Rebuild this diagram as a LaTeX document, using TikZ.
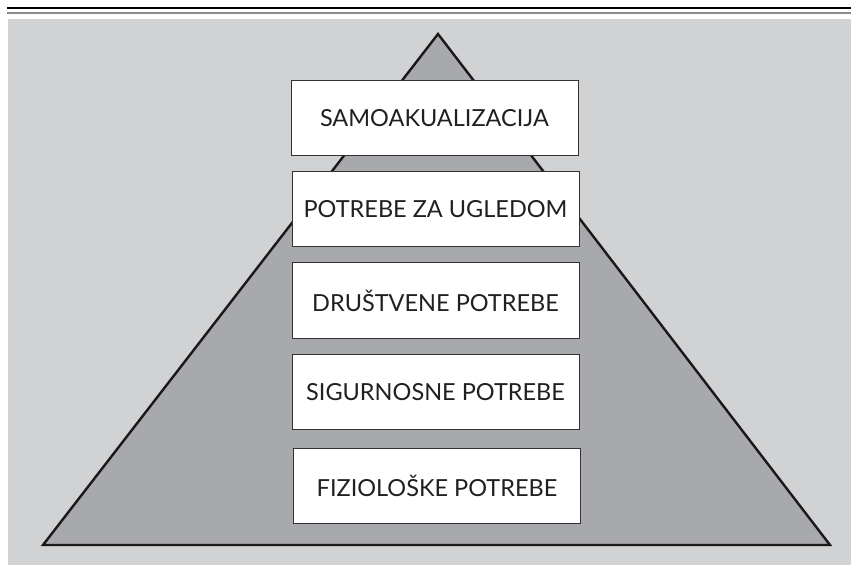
\documentclass[tikz,border=0pt]{standalone}
\usepackage{fontspec}
\setmainfont{Lato}
\definecolor{bggray}{HTML}{D1D2D4}
\definecolor{trigray}{HTML}{A8A9AC}
\definecolor{rulegray}{HTML}{8C8C8C}
\definecolor{txt}{HTML}{231F20}
\begin{document}
\begin{tikzpicture}[x=1pt,y=-1pt,
  level/.style={draw=black!80,line width=0.9pt,fill=white,minimum width=287pt,minimum height=75.5pt,inner sep=0pt,font=\fontsize{23.5}{27}\selectfont,text=txt},
  pyr/.style={draw=black!90,line width=2.4pt,fill=trigray,line join=miter}]
\useasboundingbox (0,0) rectangle (851,569);
\fill[white] (0,0) rectangle (851,569);
\draw[black,line width=1.2pt] (7,8) -- (851,8);
\draw[rulegray,line width=2pt] (7,13) -- (851,13);
\fill[bggray] (8,19) rectangle (851,565);
\coordinate (apex) at (438,34);
\coordinate (bl) at (43,545);
\coordinate (br) at (830,545);
\draw[pyr] (apex) -- (br) -- (bl) -- cycle;
\node[level] (l5) at (434.5,118) {SAMOAKUALIZACIJA};
\node[level] (l4) at (435.5,209) {POTREBE ZA UGLEDOM};
\node[level] (l3) at (435.5,300.5) {DRUŠTVENE POTREBE};
\node[level] (l2) at (435.5,392) {SIGURNOSNE POTREBE};
\node[level] (l1) at (437,486) {FIZIOLOŠKE POTREBE};
\end{tikzpicture}
\end{document}
